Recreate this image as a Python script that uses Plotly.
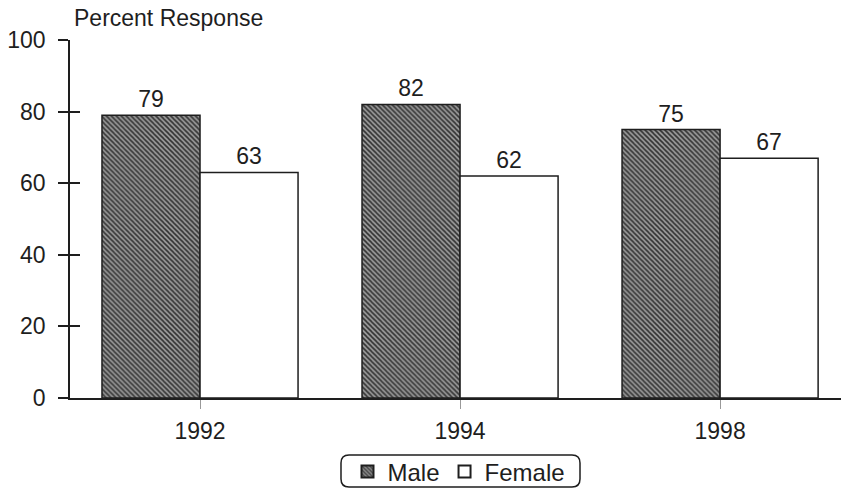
import plotly.graph_objects as go

# Survey data: percent response by year and gender
years = ["1992", "1994", "1998"]
male = [79, 82, 75]
female = [63, 62, 67]
y_ticks = [0, 20, 40, 60, 80, 100]

FONT = "Liberation Sans, Arial, Helvetica, sans-serif"
INK = "#1e1e1e"

W, H = 841, 488
ML, MR, MT, MB = 70, 0, 40, 90
PW, PH = W - ML - MR, H - MT - MB


def px_to_paper(px, py):
    return (px - ML) / PW, (H - MB - py) / PH


fig = go.Figure()

fig.add_trace(go.Bar(
    name="Male", x=years, y=male,
    marker=dict(
        color="#9a9a9a",
        line=dict(color=INK, width=1.5),
        pattern=dict(shape="\\", fgcolor="#333333", bgcolor="#999999",
                     size=3.5, solidity=0.45, fillmode="replace"),
    ),
    text=male, texttemplate="%{text}", textposition="outside",
    textfont=dict(family=FONT, size=23, color=INK),
    cliponaxis=False,
))
fig.add_trace(go.Bar(
    name="Female", x=years, y=female,
    marker=dict(color="white", line=dict(color=INK, width=1.5)),
    text=female, texttemplate="%{text}", textposition="outside",
    textfont=dict(family=FONT, size=23, color=INK),
    cliponaxis=False,
))

# Rounded frame around the legend
x0, y0, x1, y1, r = 341, 455, 580, 487, 8


def P(px, py):
    a, b = px_to_paper(px, py)
    return f"{a:.5f},{b:.5f}"


path = (f"M {P(x0 + r, y0)} L {P(x1 - r, y0)} Q {P(x1, y0)} {P(x1, y0 + r)} "
        f"L {P(x1, y1 - r)} Q {P(x1, y1)} {P(x1 - r, y1)} "
        f"L {P(x0 + r, y1)} Q {P(x0, y1)} {P(x0, y1 - r)} "
        f"L {P(x0, y0 + r)} Q {P(x0, y0)} {P(x0 + r, y0)} Z")

lx, ly = px_to_paper(459, 472)
tx, ty = px_to_paper(72, 18)

fig.update_layout(
    width=W, height=H,
    margin=dict(l=ML, r=MR, t=MT, b=MB, autoexpand=False),
    paper_bgcolor="white", plot_bgcolor="white",
    font=dict(family=FONT, size=23, color=INK),
    barmode="group", bargap=0.246, bargroupgap=0,
    showlegend=True,
    legend=dict(orientation="h", x=lx, y=ly, xanchor="center", yanchor="middle",
                font=dict(family=FONT, size=24, color=INK),
                itemsizing="constant", bgcolor="rgba(0,0,0,0)", traceorder="normal",
                itemwidth=30),
    xaxis=dict(
        type="category", range=[-0.5, 2.465],
        showline=True, linecolor=INK, linewidth=1.5,
        ticks="outside", ticklen=9, tickcolor="#999", tickwidth=1,
        showgrid=False, zeroline=False,
        tickfont=dict(family=FONT, size=23, color=INK),
        ticklabelstandoff=3,
    ),
    yaxis=dict(
        range=[0, 100], tickvals=y_ticks,
        showline=True, linecolor=INK, linewidth=1.5,
        ticks="outside", ticklen=10, tickcolor=INK, tickwidth=1.5,
        showgrid=False, zeroline=False,
        tickfont=dict(family=FONT, size=23, color=INK),
        ticklabelstandoff=8,
    ),
    yaxis2=dict(
        range=[0, 100], tickvals=y_ticks, overlaying="y", side="left",
        showline=False, ticks="inside", ticklen=10, tickcolor=INK, tickwidth=1.5,
        showticklabels=False, showgrid=False, zeroline=False,
    ),
    annotations=[dict(
        text="Percent Response", xref="paper", yref="paper",
        x=tx, y=ty, xanchor="left", yanchor="middle", showarrow=False,
        font=dict(family=FONT, size=23, color=INK),
    )],
    shapes=[dict(type="path", path=path, xref="paper", yref="paper",
                 line=dict(color=INK, width=1.5), fillcolor="rgba(0,0,0,0)")],
)

# Invisible trace so the inside-tick overlay axis is rendered
fig.add_trace(go.Scatter(x=years, y=[None] * len(years), yaxis="y2",
                         showlegend=False, hoverinfo="skip", mode="lines"))

fig.write_html("out.html")
